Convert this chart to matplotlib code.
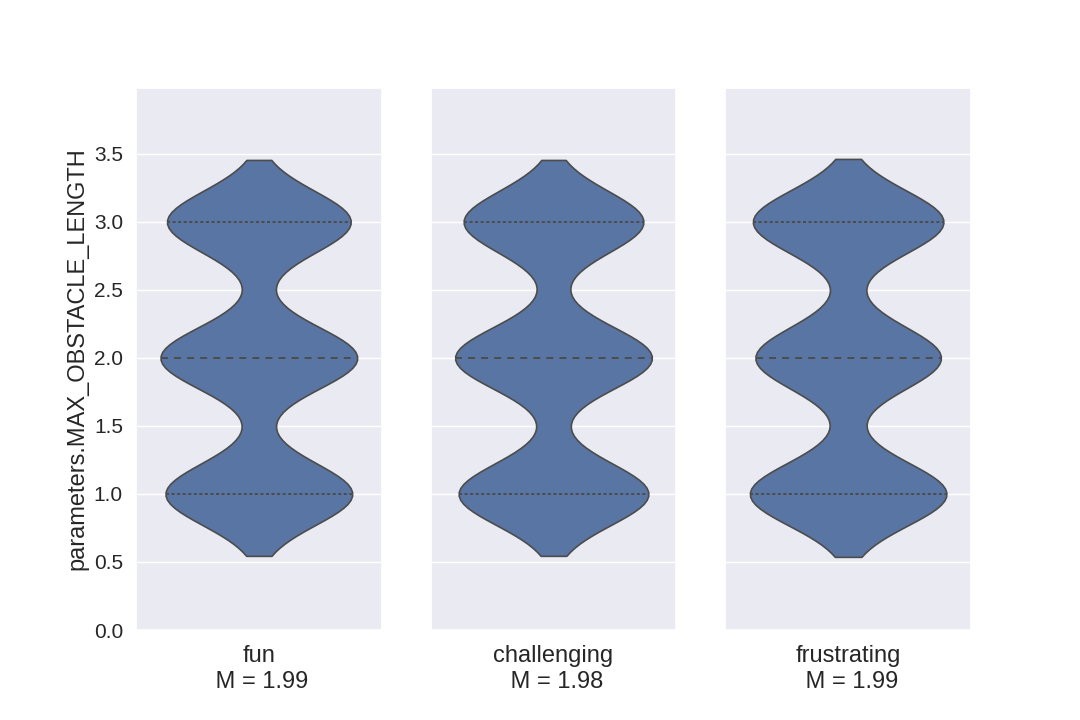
import numpy as np
import pandas as pd
import matplotlib
matplotlib.use("Agg")
import matplotlib.pyplot as plt
import seaborn as sns

# Data: counts of responses at each MAX_OBSTACLE_LENGTH value, per rating category
categories = ["fun", "challenging", "frustrating"]
values = [1, 2, 3]
counts_fun = [187, 197, 184]
counts_challenging = [190, 197, 180]
counts_frustrating = [196, 185, 190]
means = [1.99, 1.98, 1.99]
yticks = [0.0, 0.5, 1.0, 1.5, 2.0, 2.5, 3.0, 3.5]
ylabel = "parameters.MAX_OBSTACLE_LENGTH"

all_counts = [counts_fun, counts_challenging, counts_frustrating]

sns.set_theme(style="darkgrid")
plt.rcParams['font.family'] = ['Liberation Sans', 'DejaVu Sans']
plt.rcParams['lines.scale_dashes'] = False

fig, axes = plt.subplots(1, 3, figsize=(10.8, 7.2), dpi=100, sharey=True)
fig.subplots_adjust(left=0.126, right=0.899, bottom=0.125, top=0.878, wspace=0.2)

for ax, name, counts, m in zip(axes, categories, all_counts, means):
    data = pd.Series(np.repeat(values, counts), name=ylabel)
    sns.violinplot(y=data, ax=ax, inner="quart", linewidth=1.2)
    # inner quartile lines: dotted quartiles, dashed median
    inner = ax.lines[-3:]
    for i, ln in enumerate(inner):
        ln.set_linewidth(1.4)
        if i == 1:
            ln.set_linestyle((0, (5.0, 4.4)))
        else:
            ln.set_linestyle((0, (2.2, 1.8)))
    ax.set_xlabel(f"{name}\n M = {m:.2f}", fontsize=17, labelpad=1.5)
    ax.set_ylabel("")
    ax.tick_params(axis="y", labelsize=15)

axes[0].set_ylabel(ylabel, fontsize=17)
axes[0].set_ylim(0, 3.985)
axes[0].set_yticks(yticks)

fig.savefig("out.png", dpi=100)
